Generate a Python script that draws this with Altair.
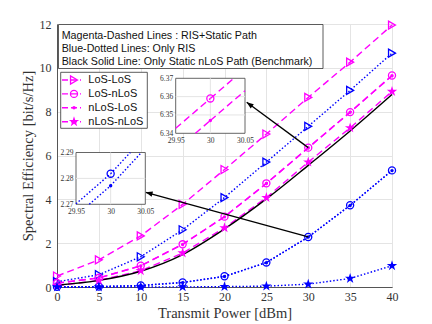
import math
import altair as alt
import pandas as pd

# ---------------- data ----------------
power = [0, 5, 10, 15, 20, 25, 30, 35, 40]
series_names = ["LoS-LoS", "LoS-nLoS", "nLoS-LoS", "nLoS-nLoS"]

# Magenta dashed: RIS + static path
ris_static_los_los = [0.50, 1.24, 2.33, 3.77, 5.36, 6.98, 8.65, 10.26, 11.95]
ris_static_los_nlos = [0.18, 0.42, 0.97, 1.95, 3.21, 4.73, 6.359, 7.98, 9.65]
ris_static_nlos_los = [0.17, 0.41, 0.96, 1.94, 3.20, 4.72, 6.347, 7.97, 9.64]
ris_static_nlos_nlos = [0.06, 0.30, 0.74, 1.55, 2.70, 4.08, 5.70, 7.26, 8.92]

# Blue dotted: only RIS
ris_los_los = [0.24, 0.56, 1.38, 2.61, 4.08, 5.70, 7.33, 8.97, 10.67]
ris_los_nlos = [0.005, 0.02, 0.07, 0.21, 0.49, 1.12, 2.2818, 3.73, 5.32]
ris_nlos_los = [0.004, 0.018, 0.065, 0.20, 0.48, 1.11, 2.2772, 3.72, 5.31]
ris_nlos_nlos = [0.0, 0.0, 0.002, 0.005, 0.015, 0.04, 0.13, 0.39, 0.97]

# Black solid: only static nLoS path (benchmark)
static_nlos = [0.08, 0.30, 0.72, 1.48, 2.65, 4.02, 5.55, 7.12, 8.78]

x_ticks = [0, 5, 10, 15, 20, 25, 30, 35, 40]
y_ticks = [0, 2, 4, 6, 8, 10, 12]

box_lines = [
    "Magenta-Dashed Lines : RIS+Static Path",
    "Blue-Dotted Lines: Only RIS",
    "Black Solid Line: Only Static nLoS Path (Benchmark)",
]

inset1_x = [29.95, 30.05]
inset1_y = [6.34, 6.37]
inset1_xticks = [29.95, 30, 30.05]
inset1_yticks = [6.34, 6.35, 6.36, 6.37]

inset2_x = [29.95, 30.05]
inset2_y = [2.27, 2.29]
inset2_xticks = [29.95, 30, 30.05]
inset2_yticks = [2.27, 2.28, 2.29]

# ---------------- table ----------------
groups = ["RIS+Static", "Only RIS", "Static nLoS"]
tables = [
    ("RIS+Static", [ris_static_los_los, ris_static_los_nlos, ris_static_nlos_los, ris_static_nlos_nlos]),
    ("Only RIS", [ris_los_los, ris_los_nlos, ris_nlos_los, ris_nlos_nlos]),
]
rows = []
for grp, lists in tables:
    for name, vals in zip(series_names, lists):
        for p, v in zip(power, vals):
            rows.append({"group": grp, "series": name, "power": p, "se": v})
for p, v in zip(power, static_nlos):
    rows.append({"group": "Static nLoS", "series": "Static nLoS", "power": p, "se": v})
df = pd.DataFrame(rows)

# ---------------- styles ----------------
W, H = 335, 263
MAGENTA, BLUE = "#ff00ff", "#0000ff"
SERIF, SANS = "Liberation Serif", "Liberation Sans"
AXC = "#555555"
GRID = "#e4e4e4"
group_colors = [MAGENTA, BLUE, "#000000"]
group_dashes = [[7, 4], [1.5, 2], [1, 0]]
STAR = ("M0,-1L0.2245,-0.309L0.9511,-0.309L0.3633,0.118L0.5878,0.809L0,0.382"
        "L-0.5878,0.809L-0.3633,0.118L-0.9511,-0.309L-0.2245,-0.309Z")
ARROW = "M0,0L0.38,1L-0.38,1Z"
marker_style = {
    "LoS-LoS": dict(shape="triangle-right", filled=False, size=64, strokeWidth=1.3),
    "LoS-nLoS": dict(shape="circle", filled=False, size=50, strokeWidth=1.3),
    "nLoS-LoS": dict(shape="circle", filled=True, size=12, strokeWidth=0),
    "nLoS-nLoS": dict(shape=STAR, filled=True, size=120, strokeWidth=0),
}

color_enc = alt.Color("group:N", scale=alt.Scale(domain=groups, range=group_colors), legend=None)

x_scale = alt.Scale(domain=[0, 40], nice=False, zero=False)
y_scale = alt.Scale(domain=[0, 12], nice=False, zero=False)
x_axis = alt.Axis(values=x_ticks, title="Transmit Power [dBm]", grid=True, gridColor=GRID,
                  domainColor=AXC, ticks=False, labelPadding=4, titlePadding=4,
                  labelFont=SERIF, titleFont=SERIF, labelFontSize=12, titleFontSize=14.5,
                  titleFontWeight="normal", labelColor="#333", titleColor="#333",
                  labelFlush=False, labelOverlap=False)
y_axis = alt.Axis(values=y_ticks, title="Spectral Efficiency [bit/s/Hz]", grid=True, gridColor=GRID,
                  domainColor=AXC, ticks=False, labelPadding=6, titlePadding=4,
                  labelFont=SERIF, titleFont=SERIF, labelFontSize=12, titleFontSize=14.5,
                  titleFontWeight="normal", labelColor="#333", titleColor="#333",
                  labelFlush=False, labelOverlap=False)
X = alt.X("power:Q", scale=x_scale, axis=x_axis)
Y = alt.Y("se:Q", scale=y_scale, axis=y_axis)

# ---------------- main plot ----------------
lines = (alt.Chart(df).transform_filter("datum.group != 'Static nLoS'")
         .mark_line(strokeWidth=1.4)
         .encode(x=X, y=Y, color=color_enc,
                 strokeDash=alt.StrokeDash("group:N", scale=alt.Scale(domain=groups, range=group_dashes), legend=None),
                 detail="series:N"))
black = (alt.Chart(df).transform_filter("datum.group == 'Static nLoS'")
         .mark_line(color="black", strokeWidth=1.4, interpolate="monotone")
         .encode(x=X, y=Y))

point_layers = []
for name in series_names:
    st = marker_style[name]
    point_layers.append(
        alt.Chart(df).transform_filter(alt.FieldEqualPredicate(field="series", equal=name))
        .transform_filter("datum.group != 'Static nLoS'")
        .mark_point(opacity=1, **st)
        .encode(x=X, y=Y, color=color_enc)
    )

arrow_layers = []
for grp, vals, tx, ty in [("RIS+Static", ris_static_los_nlos, 22.65, 8.43),
                          ("Only RIS", ris_los_nlos, 10.59, 4.32)]:
    sx, sy = 30, vals[power.index(30)]
    dxp = (tx - sx) * W / 40.0
    dyp = -(ty - sy) * H / 12.0
    ang = math.degrees(math.atan2(dxp, -dyp)) % 360
    arrow_layers.append(
        alt.Chart(df)
        .transform_filter(alt.FieldEqualPredicate(field="group", equal=grp))
        .transform_filter(alt.FieldEqualPredicate(field="series", equal="LoS-nLoS"))
        .transform_filter("datum.power == 30")
        .mark_rule(color="black", strokeWidth=1.3)
        .encode(x=X, y=Y, x2=alt.datum(tx), y2=alt.datum(ty))
    )
    arrow_layers.append(
        alt.Chart(pd.DataFrame({"k": [0]}))
        .mark_point(shape=ARROW, filled=True, color="black", size=190, angle=ang, opacity=1, strokeWidth=0)
        .encode(x=alt.datum(tx), y=alt.datum(ty))
    )

main = alt.layer(lines, black, *point_layers, *arrow_layers)

# ---------------- text box ----------------
box_df = pd.DataFrame({"line": box_lines, "i": list(range(len(box_lines)))})
box_rect = (alt.Chart(pd.DataFrame({"k": [0]}))
            .mark_rect(fill="white", stroke="#333", strokeWidth=0.8)
            .encode(x=alt.value(1.5), x2=alt.value(266), y=alt.value(0.5), y2=alt.value(44.5)))
box_text = (alt.Chart(box_df).transform_calculate(ty="11.7 + datum.i * 13.3")
            .mark_text(align="left", baseline="middle", font=SANS, fontSize=10.7, color="#111")
            .encode(x=alt.value(4.7), y=alt.Y("ty:Q", scale=None), text="line:N"))
textbox = alt.layer(box_rect, box_text)

# ---------------- legend ----------------
leg_df = pd.DataFrame({"series": series_names, "i": list(range(len(series_names)))})
leg_base = alt.Chart(leg_df).transform_calculate(ly="56 + datum.i * 13.9")
leg_rect = (alt.Chart(pd.DataFrame({"k": [0]}))
            .mark_rect(fill="white", stroke="#333", strokeWidth=0.8)
            .encode(x=alt.value(3.7), x2=alt.value(90.3), y=alt.value(48.3), y2=alt.value(104.3)))
leg_line = (leg_base.mark_rule(color=MAGENTA, strokeDash=[6, 3], strokeWidth=1.4)
            .encode(x=alt.value(5), x2=alt.value(24), y=alt.Y("ly:Q", scale=None)))
leg_marks = []
for name in series_names:
    st = marker_style[name]
    leg_marks.append(
        leg_base.transform_filter(alt.FieldEqualPredicate(field="series", equal=name))
        .mark_point(opacity=1, color=MAGENTA, **st)
        .encode(x=alt.value(17), y=alt.Y("ly:Q", scale=None))
    )
leg_text = (leg_base.mark_text(align="left", baseline="middle", font=SANS, fontSize=11, color="#111")
            .encode(x=alt.value(31.3), y=alt.Y("ly:Q", scale=None), text="series:N"))
legend = alt.layer(leg_rect, leg_line, *leg_marks, leg_text)


# ---------------- insets ----------------
def make_inset(grp, names, xd, yd, xt, yt, xr, yr, color, dash):
    xs = alt.Scale(domain=xd, range=xr, nice=False, zero=False)
    ys = alt.Scale(domain=yd, range=yr, nice=False, zero=False)
    xax = alt.Axis(orient="bottom", offset=yr[0] - H, values=xt, format="~g", grid=False, domain=False,
                   ticks=False, labelFont=SERIF, labelFontSize=7.5, labelColor="#333", labelPadding=3,
                   labelFlush=False, labelOverlap=False)
    yax = alt.Axis(orient="left", offset=-xr[0], values=yt, format="~g", grid=False, domain=False,
                   ticks=False, labelFont=SERIF, labelFontSize=7.5, labelColor="#333", labelPadding=3,
                   labelFlush=False, labelOverlap=False)

    def ix(f):
        return alt.X(f, scale=xs, axis=xax, title=None)

    def iy(f):
        return alt.Y(f, scale=ys, axis=yax, title=None)

    frame_df = pd.DataFrame({"xa": [xd[0]], "xb": [xd[1]], "ya": [yd[0]], "yb": [yd[1]]})
    frame = (alt.Chart(frame_df).mark_rect(fill="white", stroke=AXC, strokeWidth=0.9)
             .encode(x=ix("xa:Q"), x2="xb:Q", y=iy("ya:Q"), y2="yb:Q"))
    gx = (alt.Chart(pd.DataFrame({"gx": xt[1:-1]})).mark_rule(color=GRID, strokeWidth=1)
          .encode(x=ix("gx:Q"), y=alt.datum(yd[0]), y2=alt.datum(yd[1])))
    gy = (alt.Chart(pd.DataFrame({"gy": yt[1:-1]})).mark_rule(color=GRID, strokeWidth=1)
          .encode(y=iy("gy:Q"), x=alt.datum(xd[0]), x2=alt.datum(xd[1])))
    seg = (alt.Chart(df)
           .transform_filter(alt.FieldEqualPredicate(field="group", equal=grp))
           .transform_filter(alt.FieldOneOfPredicate(field="series", oneOf=names))
           .transform_window(px="lag(power)", py="lag(se)", nx="lead(power)", ny="lead(se)",
                             groupby=["series"], sort=[alt.SortField("power")])
           .transform_filter(f"datum.power >= {xd[0]} && datum.power <= {xd[1]}")
           .transform_calculate(sl="(datum.se - datum.py) / (datum.power - datum.px)")
           .transform_calculate(sr="(datum.ny - datum.se) / (datum.nx - datum.power)")
           .transform_calculate(x0=f"max({xd[0]}, datum.power - (datum.se - {yd[0]}) / datum.sl)")
           .transform_calculate(x1=f"min({xd[1]}, datum.power + ({yd[1]} - datum.se) / datum.sr)")
           .transform_calculate(y0="datum.se - datum.sl * (datum.power - datum.x0)")
           .transform_calculate(y1="datum.se + datum.sr * (datum.x1 - datum.power)"))
    left = (seg.mark_rule(color=color, strokeDash=dash, strokeWidth=1.4)
            .encode(x=ix("x0:Q"), y=iy("y0:Q"), x2="power:Q", y2="se:Q"))
    right = (seg.mark_rule(color=color, strokeDash=dash, strokeWidth=1.4)
             .encode(x=ix("power:Q"), y=iy("se:Q"), x2="x1:Q", y2="y1:Q"))
    pts = []
    for name in names:
        st = marker_style[name]
        pts.append(
            seg.transform_filter(alt.FieldEqualPredicate(field="series", equal=name))
            .mark_point(opacity=1, color=color, **st)
            .encode(x=ix("power:Q"), y=iy("se:Q"))
        )
    return alt.layer(frame, gx, gy, left, right, *pts)


inset1 = make_inset("RIS+Static", ["LoS-nLoS", "nLoS-LoS"], inset1_x, inset1_y,
                    inset1_xticks, inset1_yticks, [118.7, 188], [109.3, 54.3], MAGENTA, [7, 4])
inset2 = make_inset("Only RIS", ["LoS-nLoS", "nLoS-LoS"], inset2_x, inset2_y,
                    inset2_xticks, inset2_yticks, [19, 88.3], [180.3, 128.5], BLUE, [1.5, 2])

chart = (alt.layer(main, textbox, legend, inset1, inset2)
         .resolve_scale(x="independent", y="independent")
         .properties(width=W, height=H, background="white",
                     autosize=alt.AutoSizeParams(type="none"),
                     padding={"left": 49, "top": 16, "right": 24, "bottom": 36})
         .configure_view(stroke=AXC, strokeWidth=1))

chart.save("out.html", embed_options={"renderer": "svg", "actions": False})
